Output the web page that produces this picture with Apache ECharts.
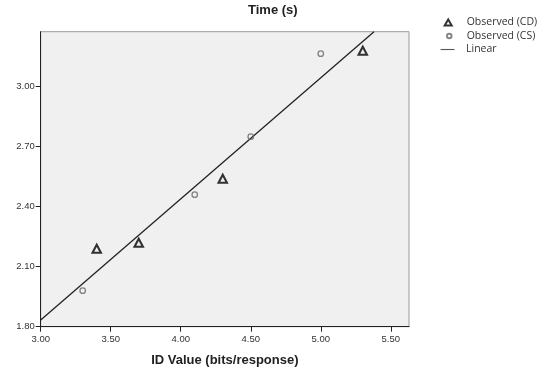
<!DOCTYPE html>
<html>
<head>
<meta charset="utf-8">
<script src="https://cdn.jsdelivr.net/npm/echarts@6/dist/echarts.min.js"></script>
<style>
  html, body { margin: 0; padding: 0; background: #fff; }
  #chart { width: 542px; height: 368px; }
</style>
</head>
<body>
<div id="chart"></div>
<script>
// observed points
const cdX = [3.40, 3.70, 4.30, 5.30];
const cdY = [2.19, 2.22, 2.54, 3.18];
const csX = [3.30, 4.10, 4.50, 5.00];
const csY = [1.98, 2.46, 2.75, 3.165];
// fitted line, end points
const fitX = [3.00, 5.38];
const fitY = [1.833, 3.275];
// tick labels
const xTicks = [3.0, 3.5, 4.0, 4.5, 5.0, 5.5];
const yTicks = [1.8, 2.1, 2.4, 2.7, 3.0];

const chart = echarts.init(document.getElementById("chart"));

const pairs = (xs, ys) => xs.map((x, i) => [x, ys[i]]);
const font = "'Liberation Sans', Arial, sans-serif";
const legendText = (pad) => ({
  fontFamily: "'Open Sans', sans-serif",
  fontSize: 10.5,
  lineHeight: 12,
  color: "#333",
  padding: [0, 0, 0, pad],
});

const option = {
  backgroundColor: "#fff",
  animation: false,
  grid: {
    left: 40.7,
    right: 133,
    top: 31.7,
    bottom: 41.3,
    show: true,
    backgroundColor: "#f0f0f0",
    borderColor: "#9a9a9a",
    borderWidth: 1,
    outerBoundsMode: "none",
  },
  graphic: [
    {
      type: "text",
      left: 248,
      top: 4,
      style: { text: "Time (s)", font: "bold 13px " + font, fill: "#222" },
    },
  ],
  xAxis: {
    type: "value",
    min: 3.0,
    max: 5.63,
    name: "ID Value (bits/response)",
    nameLocation: "middle",
    nameGap: 27,
    nameTextStyle: { fontFamily: font, fontWeight: "bold", fontSize: 13, color: "#222" },
    splitLine: { show: false },
    axisLine: { show: true, lineStyle: { color: "#222", width: 1 } },
    axisTick: { show: true, length: 5, customValues: xTicks, lineStyle: { color: "#222" } },
    axisLabel: {
      customValues: xTicks,
      formatter: (v) => v.toFixed(2),
      fontFamily: font,
      fontSize: 9.5,
      color: "#333",
      margin: 8,
    },
  },
  yAxis: {
    type: "value",
    min: 1.8,
    max: 3.275,
    splitLine: { show: false },
    axisLine: { show: true, lineStyle: { color: "#222", width: 1 } },
    axisTick: { show: true, length: 5, customValues: yTicks, lineStyle: { color: "#222" } },
    axisLabel: {
      customValues: yTicks,
      formatter: (v) => v.toFixed(2),
      fontFamily: font,
      fontSize: 9.5,
      color: "#333",
      margin: 6,
    },
  },
  legend: [
    {
      orient: "vertical",
      left: 442.2,
      top: 16.5,
      padding: 0,
      itemWidth: 7,
      itemHeight: 6,
      textStyle: legendText(10),
      data: ["Observed (CD)"],
    },
    {
      orient: "vertical",
      left: 444.5,
      top: 30,
      padding: 0,
      itemWidth: 4.5,
      itemHeight: 4.5,
      textStyle: legendText(10.2),
      data: ["Observed (CS)"],
    },
    {
      orient: "vertical",
      left: 440,
      top: 43.5,
      padding: 0,
      itemWidth: 14,
      itemHeight: 4,
      textStyle: legendText(6.5),
      data: [
        {
          name: "Linear",
          itemStyle: { opacity: 0 },
          lineStyle: { width: 1.1, color: "#555" },
        },
      ],
    },
  ],
  series: [
    {
      name: "Observed (CD)",
      type: "scatter",
      symbol: "triangle",
      symbolSize: [8.5, 8],
      itemStyle: { color: "none", borderColor: "#000", borderWidth: 2 },
      data: pairs(cdX, cdY),
      z: 3,
    },
    {
      name: "Observed (CS)",
      type: "scatter",
      symbol: "circle",
      symbolSize: 5.5,
      itemStyle: { color: "none", borderColor: "#666", borderWidth: 1.3 },
      data: pairs(csX, csY),
      z: 3,
    },
    {
      name: "Linear",
      type: "line",
      symbol: "none",
      clip: true,
      lineStyle: { color: "#222", width: 1.3 },
      itemStyle: { color: "#222" },
      data: pairs(fitX, fitY),
      z: 2,
    },
  ],
};

chart.setOption(option);
</script>
</body>
</html>
